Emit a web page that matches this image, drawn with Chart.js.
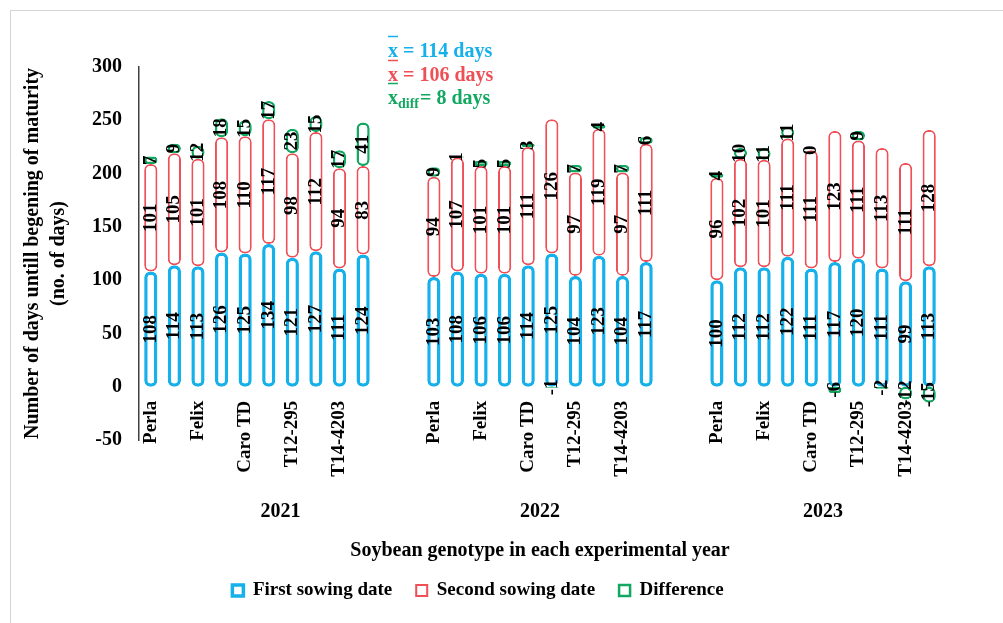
<!DOCTYPE html>
<html>
<head>
<meta charset="utf-8">
<title>Days until beginning of maturity</title>
<script src="https://cdn.jsdelivr.net/npm/chart.js@4.4.1/dist/chart.umd.min.js"></script>
<style>
  html, body { margin: 0; padding: 0; background: #fff; }
  #wrap { width: 1003px; height: 623px; position: relative; }
</style>
</head>
<body>
<div id="wrap"><canvas id="chart"></canvas></div>
<script>
'use strict';

// ---- data ----
const YEARS = ['2021', '2022', '2023'];
// only every second genotype name is printed on the axis
const GENOTYPES = ['Perla', '', 'Felix', '', 'Caro TD', '', 'T12-295', '', 'T14-4203', ''];

const FIRST_2021  = [108, 114, 113, 126, 125, 134, 121, 127, 111, 124];
const SECOND_2021 = [101, 105, 101, 108, 110, 117, 98, 112, 94, 83];
const DIFF_2021   = [7, 9, 12, 18, 15, 17, 23, 15, 17, 41];

const FIRST_2022  = [103, 108, 106, 106, 114, 125, 104, 123, 104, 117];
const SECOND_2022 = [94, 107, 101, 101, 111, 126, 97, 119, 97, 111];
const DIFF_2022   = [9, 1, 5, 5, 3, -1, 7, 4, 7, 6];

const FIRST_2023  = [100, 112, 112, 122, 111, 117, 120, 111, 99, 113];
const SECOND_2023 = [96, 102, 101, 111, 111, 123, 111, 113, 111, 128];
const DIFF_2023   = [4, 10, 11, 11, 0, -6, 9, -2, -12, -15];

const MEAN_FIRST  = 114;
const MEAN_SECOND = 106;
const MEAN_DIFF   = 8;

const Y_TICKS = { min: -50, max: 300, step: 50 };

// ---- look ----
const FONT = '"Liberation Serif", "Times New Roman", serif';
const BLUE  = '#16b0ea';
const RED   = '#ef4f57';
const GREEN = '#12a862';
const GAP = 2;   // empty categories between the years

function joinYears(a, b, c, fill) {
  const pad = Array(GAP).fill(fill);
  return [...a, ...pad, ...b, ...pad, ...c];
}

const labels = joinYears(GENOTYPES, GENOTYPES, GENOTYPES, '');
// year groups as category index ranges (2021 label sits over its trailing gap too)
const yearGroups = [
  [0, GENOTYPES.length + GAP - 1],
  [GENOTYPES.length + GAP, 2 * GENOTYPES.length + GAP - 1],
  [2 * (GENOTYPES.length + GAP), 3 * GENOTYPES.length + 2 * GAP - 1],
];

const radius = { topLeft: 6, topRight: 6, bottomLeft: 6, bottomRight: 6 };

// rotated value labels in the middle of each segment
const segmentLabels = {
  id: 'segmentLabels',
  afterDatasetsDraw(chart) {
    const ctx = chart.ctx;
    ctx.save();
    ctx.font = 'bold 19px ' + FONT;
    ctx.fillStyle = '#000';
    ctx.textAlign = 'center';
    ctx.textBaseline = 'middle';
    chart.data.datasets.forEach((ds, di) => {
      const meta = chart.getDatasetMeta(di);
      meta.data.forEach((bar, i) => {
        const v = ds.data[i];
        if (v === null || v === undefined) return;
        const p = bar.getProps(['x', 'y', 'base'], true);
        ctx.save();
        ctx.translate(p.x, (p.y + p.base) / 2);
        ctx.rotate(-Math.PI / 2);
        ctx.fillText(String(v), 0, 0);
        ctx.restore();
      });
    });
    ctx.restore();
  }
};

// genotype names under the zero line, years below, the frame and the means
const axisText = {
  id: 'axisText',
  beforeDraw(chart) {
    const ctx = chart.ctx;
    ctx.save();
    ctx.strokeStyle = '#d4d4d4';
    ctx.lineWidth = 1;
    ctx.strokeRect(10.5, 10.5, chart.width + 20, chart.height + 20);
    ctx.restore();
  },
  afterDraw(chart) {
    const ctx = chart.ctx;
    const x = chart.scales.x, y = chart.scales.y;
    const y0 = y.getPixelForValue(0) + 14;
    ctx.save();
    ctx.fillStyle = '#000';
    ctx.font = 'bold 19px ' + FONT;
    ctx.textAlign = 'right';
    ctx.textBaseline = 'middle';
    labels.forEach((lab, i) => {
      if (!lab) return;
      ctx.save();
      ctx.translate(x.getPixelForValue(i), y0);
      ctx.rotate(-Math.PI / 2);
      ctx.fillText(lab, 0, 0);
      ctx.restore();
    });

    ctx.font = 'bold 20px ' + FONT;
    ctx.textAlign = 'center';
    YEARS.forEach((yr, k) => {
      const g = yearGroups[k];
      const cx = x.getPixelForValue((g[0] + g[1]) / 2);
      ctx.fillText(yr, cx, chart.chartArea.bottom + 72);
    });

    // mean annotations
    ctx.textAlign = 'left';
    ctx.textBaseline = 'alphabetic';
    const ann = [
      { color: BLUE,  sub: '',     text: ' = ' + MEAN_FIRST + ' days',  base: 57 },
      { color: RED,   sub: '',     text: ' = ' + MEAN_SECOND + ' days', base: 81 },
      { color: GREEN, sub: 'diff', text: '= ' + MEAN_DIFF + ' days',    base: 104 },
    ];
    ann.forEach(a => {
      let px = 388;
      ctx.fillStyle = a.color;
      ctx.strokeStyle = a.color;
      ctx.font = 'bold 20px ' + FONT;
      const wx = ctx.measureText('x').width;
      ctx.fillText('x', px, a.base);
      ctx.lineWidth = 1.5;
      ctx.beginPath();
      ctx.moveTo(px, a.base - 20.5);
      ctx.lineTo(px + wx, a.base - 20.5);
      ctx.stroke();
      px += wx;
      if (a.sub) {
        ctx.font = 'bold 14px ' + FONT;
        ctx.fillText(a.sub, px, a.base + 4);
        px += ctx.measureText(a.sub).width + 1;
        ctx.font = 'bold 20px ' + FONT;
      }
      ctx.fillText(a.text, px, a.base);
    });
    ctx.restore();
  }
};

Chart.defaults.font.family = FONT;
Chart.defaults.color = '#000';

new Chart(document.getElementById('chart'), {
  type: 'bar',
  data: {
    labels,
    datasets: [
      {
        label: 'First sowing date',
        data: joinYears(FIRST_2021, FIRST_2022, FIRST_2023, null),
        backgroundColor: '#fff', borderColor: BLUE, borderWidth: 3.5,
        borderRadius: radius, borderSkipped: false,
      },
      {
        label: 'Second sowing date',
        data: joinYears(SECOND_2021, SECOND_2022, SECOND_2023, null),
        backgroundColor: '#fff', borderColor: RED, borderWidth: 2,
        borderRadius: radius, borderSkipped: false,
      },
      {
        label: 'Difference',
        data: joinYears(DIFF_2021, DIFF_2022, DIFF_2023, null),
        backgroundColor: '#fff', borderColor: GREEN, borderWidth: 2.5,
        borderRadius: radius, borderSkipped: false,
      },
    ]
  },
  options: {
    responsive: true,
    maintainAspectRatio: false,
    animation: false,
    layout: { padding: { left: 15, top: 67, right: 62, bottom: 13 } },
    datasets: { bar: { barPercentage: 0.56, categoryPercentage: 1 } },
    plugins: {
      tooltip: { enabled: false },
      legend: {
        position: 'bottom',
        labels: {
          boxWidth: 11, boxHeight: 11, padding: 24,
          font: { size: 19, weight: 'bold' }, color: '#000',
        }
      }
    },
    scales: {
      x: {
        stacked: true,
        grid: { display: false, drawTicks: false },
        border: { display: false },
        ticks: { display: false },
        title: {
          display: true,
          text: 'Soybean genotype in each experimental year',
          font: { size: 20, weight: 'bold' }, color: '#000',
          padding: { top: 0, bottom: -6 },
        },
        afterFit(s) { s.height = 117; }
      },
      y: {
        stacked: true,
        min: Y_TICKS.min, max: Y_TICKS.max,
        grid: { display: false, drawTicks: false },
        border: { display: true, color: '#404040', width: 1.5 },
        ticks: {
          stepSize: Y_TICKS.step, padding: 17,
          font: { size: 20, weight: 'bold' }, color: '#000',
        },
        title: {
          display: true,
          text: ['Number of days untill begening of maturity', '(no. of days)'],
          font: { size: 20, weight: 'bold', lineHeight: 1.3 }, color: '#000',
          padding: { top: 5, bottom: 0 },
        },
        afterFit(s) { s.width = 124; }
      }
    }
  },
  plugins: [segmentLabels, axisText]
});
</script>
</body>
</html>
